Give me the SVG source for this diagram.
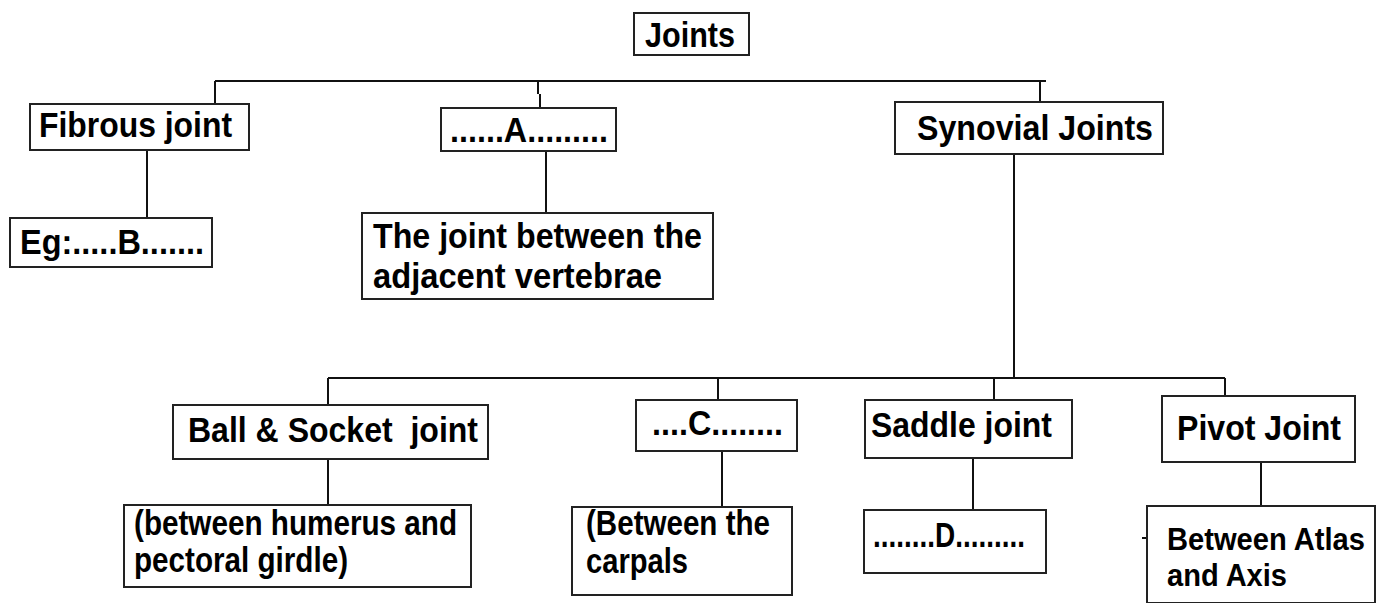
<svg xmlns="http://www.w3.org/2000/svg" width="1381" height="603" viewBox="0 0 1381 603">
<style>
.box{fill:#fff;stroke:#222;stroke-width:2}
.t{font-family:"Liberation Sans",Arial,sans-serif;font-weight:bold;font-size:35px;fill:#000;white-space:pre}
.s{font-size:31px}
.c{stroke:#111;stroke-width:2;fill:none}
</style>
<rect width="1381" height="603" fill="#fff"/>
<g id="connectors">
<path class="c" d="M215 81H1046M215 81V104M538 81V94M540 94V108M1040 81V102"/>
<path class="c" d="M147 150V218M546 151V213"/>
<path class="c" d="M1014 154V378M328 378H1225M328 378V405M718 378V400M994 378V400M1225 378V396"/>
<path class="c" d="M328 459V505M722 451V507M973 458V510M1261 462V506M1142 538H1147"/>
</g>
<g id="joints"><rect class="box" x="634" y="13" width="115" height="42"/><text class="t" x="645" y="47" textLength="90" lengthAdjust="spacingAndGlyphs">Joints</text></g>
<g id="fibrous"><rect class="box" x="30" y="104" width="219" height="46"/><text class="t" x="39" y="137" textLength="193" lengthAdjust="spacingAndGlyphs">Fibrous joint</text></g>
<g id="egB"><rect class="box" x="10" y="218" width="202" height="49"/><text class="t" x="20" y="254" textLength="184" lengthAdjust="spacingAndGlyphs">Eg:.....B.......</text></g>
<g id="A"><rect class="box" x="441" y="108" width="175" height="43"/><text class="t" x="450" y="142" textLength="158" lengthAdjust="spacingAndGlyphs">......A.........</text></g>
<g id="vertebrae"><rect class="box" x="362" y="213" width="351" height="86"/><text class="t" x="373" y="248" textLength="329" lengthAdjust="spacingAndGlyphs">The joint between the</text><text class="t" x="373" y="288" textLength="289" lengthAdjust="spacingAndGlyphs">adjacent vertebrae</text></g>
<g id="synovial"><rect class="box" x="895" y="102" width="268" height="52"/><text class="t" x="917" y="140" textLength="236" lengthAdjust="spacingAndGlyphs">Synovial Joints</text></g>
<g id="ball"><rect class="box" x="173" y="405" width="315" height="54"/><text class="t" x="188" y="442" textLength="290" lengthAdjust="spacingAndGlyphs">Ball &amp; Socket  joint</text></g>
<g id="humerus"><rect class="box" x="124" y="505" width="347" height="82"/><text class="t" x="134" y="535" textLength="323" lengthAdjust="spacingAndGlyphs">(between humerus and</text><text class="t" x="134" y="572" textLength="214" lengthAdjust="spacingAndGlyphs">pectoral girdle)</text></g>
<g id="C"><rect class="box" x="636" y="400" width="161" height="51"/><text class="t" x="652" y="435" textLength="131" lengthAdjust="spacingAndGlyphs">....C........</text></g>
<g id="carpals"><rect class="box" x="572" y="507" width="220" height="88"/><text class="t" x="586" y="535" textLength="184" lengthAdjust="spacingAndGlyphs">(Between the</text><text class="t" x="586" y="573" textLength="102" lengthAdjust="spacingAndGlyphs">carpals</text></g>
<g id="saddle"><rect class="box" x="865" y="400" width="207" height="58"/><text class="t" x="871" y="437" textLength="181" lengthAdjust="spacingAndGlyphs">Saddle joint</text></g>
<g id="D"><rect class="box" x="864" y="510" width="182" height="63"/><text class="t" x="873" y="547" textLength="152" lengthAdjust="spacingAndGlyphs">........D.........</text></g>
<g id="pivot"><rect class="box" x="1162" y="396" width="193" height="66"/><text class="t" x="1177" y="440" textLength="164" lengthAdjust="spacingAndGlyphs">Pivot Joint</text></g>
<g id="atlas"><rect class="box" x="1147" y="506" width="228" height="97"/><text class="t s" x="1167" y="550" textLength="198" lengthAdjust="spacingAndGlyphs">Between Atlas</text><text class="t s" x="1167" y="586" textLength="120" lengthAdjust="spacingAndGlyphs">and Axis</text></g>
</svg>
